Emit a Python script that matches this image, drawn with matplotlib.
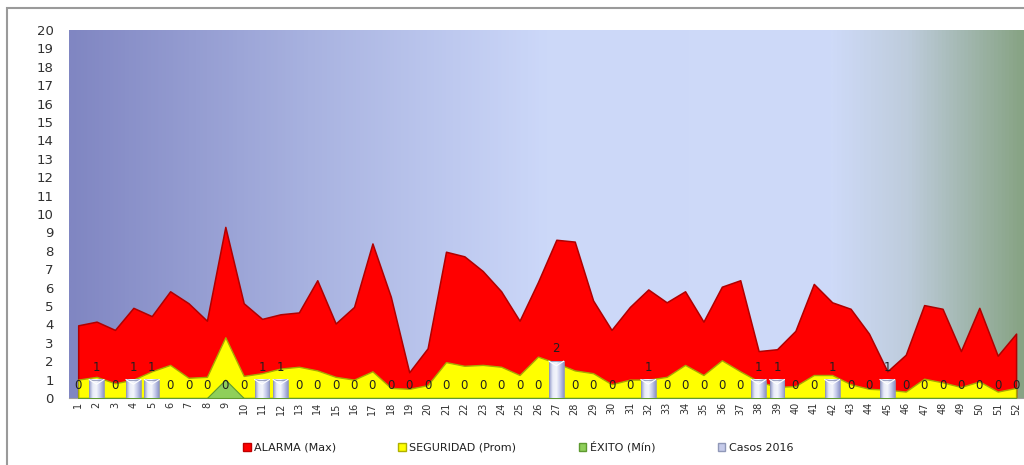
import numpy as np
import matplotlib
matplotlib.use("Agg")
import matplotlib.pyplot as plt
from matplotlib.patches import Patch, Rectangle
from matplotlib.colors import LinearSegmentedColormap

weeks = list(range(1, 53))
alarma_max = [3.95, 4.15, 3.7, 4.9, 4.45, 5.8, 5.15, 4.2, 9.3, 5.15, 4.3, 4.55, 4.65, 6.4,
              4.05, 4.95, 8.4, 5.5, 1.4, 2.7, 7.95, 7.7, 6.9, 5.8, 4.2, 6.3, 8.6, 8.5,
              5.3, 3.7, 4.95, 5.9, 5.2, 5.8, 4.15, 6.05, 6.4, 2.55, 2.65, 3.65, 6.2, 5.2,
              4.85, 3.5, 1.45, 2.35, 5.05, 4.85, 2.55, 4.9, 2.3, 3.5]
seguridad_prom = [1.0, 1.15, 0.8, 1.0, 1.45, 1.8, 1.1, 1.15, 3.3, 1.2, 1.35, 1.6, 1.7, 1.5,
                  1.15, 1.0, 1.45, 0.55, 0.5, 0.7, 1.95, 1.75, 1.8, 1.7, 1.25, 2.25, 1.9, 1.5,
                  1.35, 0.75, 1.0, 1.0, 1.15, 1.8, 1.25, 2.05, 1.45, 0.9, 0.6, 0.65, 1.25, 1.25,
                  0.75, 0.5, 0.45, 0.35, 1.05, 0.85, 0.6, 0.9, 0.35, 0.55]
exito_min = [0, 0, 0, 0, 0, 0, 0, 0, 1.0, 0, 0, 0, 0, 0, 0, 0, 0, 0, 0, 0, 0, 0, 0, 0, 0, 0,
             0, 0, 0, 0, 0, 0, 0, 0, 0, 0, 0, 0, 0, 0, 0, 0, 0, 0, 0, 0, 0, 0, 0, 0, 0, 0]
casos_2016 = [0, 1, 0, 1, 1, 0, 0, 0, 0, 0, 1, 1, 0, 0, 0, 0, 0, 0, 0, 0, 0, 0, 0, 0, 0, 0,
              2, 0, 0, 0, 0, 1, 0, 0, 0, 0, 0, 1, 1, 0, 0, 1, 0, 0, 1, 0, 0, 0, 0, 0, 0, 0]
series_names = ["ALARMA (Max)", "SEGURIDAD (Prom)", "ÉXITO (Mín)", "Casos 2016"]
y_ticks = list(range(0, 21))

W, H = 1024, 465
fig = plt.figure(figsize=(W / 100, H / 100), dpi=100)
ax = fig.add_axes([69 / W, 1 - 398 / H, (1024 - 69) / W, (398 - 30) / H])
xmin, xmax = 0.5, 0.5 + (1024 - 69) / 18.39
ax.set_xlim(xmin, xmax)
ax.set_ylim(0, 20)

# background gradient
bg = LinearSegmentedColormap.from_list("bg", [
    (0.0, (128/255, 134/255, 194/255)),
    (0.25, (168/255, 178/255, 224/255)),
    (0.5, (204/255, 216/255, 249/255)),
    (0.8, (206/255, 218/255, 248/255)),
    (0.88, (190/255, 204/255, 220/255)),
    (1.0, (135/255, 163/255, 132/255)),
])
grad = np.linspace(0, 1, 1024).reshape(1, -1)
ax.imshow(grad, cmap=bg, aspect="auto", extent=(0, 1, 0, 1), transform=ax.transAxes,
          zorder=0, interpolation="bilinear")

x = np.array(weeks)
ax.fill_between(x, 0, alarma_max, color="#ff0000", edgecolor="#b00000", lw=1.1, zorder=2)
ax.fill_between(x, 0, seguridad_prom, color="#ffff00", edgecolor="#a8a800", lw=1.0, zorder=3)
ax.fill_between(x, 0, exito_min, color="#8fcf5a", edgecolor="#5e9a30", lw=0.8, zorder=4)

# bars with cylinder-like gradient
bar_cmap = LinearSegmentedColormap.from_list("bar", ["#8e96c8", "#e9ecf8", "#f4f6fc", "#c6cbea", "#8e96c8"])
bars = ax.bar(x, casos_2016, width=0.8, facecolor="none", edgecolor="#9098b8", lw=0.6, zorder=6)
bgrad = np.linspace(0, 1, 64).reshape(1, -1)
for b, v in zip(bars, casos_2016):
    if v > 0:
        x0 = b.get_x()
        ax.imshow(bgrad, cmap=bar_cmap, aspect="auto", extent=(x0, x0 + b.get_width(), 0, v),
                  zorder=5, interpolation="bilinear")
        ax.plot([x0, x0 + b.get_width() / 2, x0 + b.get_width()], [v, v - 0.25, v],
                color="#ffffff", lw=0.8, zorder=6)

for xi, v in zip(x, casos_2016):
    ax.annotate(str(v), (xi, v), xytext=(0, 9), textcoords="offset points",
                ha="center", va="center", fontsize=8.5, color="#202020", zorder=7)

ax.set_xlim(xmin, xmax)
ax.set_ylim(0, 20)
ax.set_yticks(y_ticks)
ax.set_yticklabels([str(t) for t in y_ticks])
ax.set_xticks(x)
ax.set_xticklabels([str(w) for w in weeks], rotation=90)
ax.tick_params(axis="y", length=0, pad=11, labelsize=9.5, labelcolor="#303030")
ax.tick_params(axis="x", length=0, pad=3, labelsize=7, labelcolor="#303030")
for s in ["top", "right", "left"]:
    ax.spines[s].set_visible(False)
ax.spines["bottom"].set_color("#a0a0a0")
ax.spines["bottom"].set_linewidth(0.8)

# outer chart frame
fig.add_artist(Rectangle((7 / W, -0.2), 1.2, 0.2 + (1 - 8 / H), transform=fig.transFigure,
                         fill=False, edgecolor="#9a9a9a", lw=1.5, zorder=10))

handles = [Patch(facecolor="#ff0000", edgecolor="#c00000"),
           Patch(facecolor="#ffff00", edgecolor="#b0b000"),
           Patch(facecolor="#8fcf5a", edgecolor="#5e9a30"),
           Patch(facecolor="#c6cbea", edgecolor="#9098b8")]
fig.legend(handles, series_names, loc="center", bbox_to_anchor=(518 / W, 1 - 447 / H),
           ncol=4, frameon=False, fontsize=8, handlelength=0.7, handleheight=0.7,
           handletextpad=0.3, columnspacing=5.6, labelcolor="#202020")

fig.savefig("out.png", dpi=100)
